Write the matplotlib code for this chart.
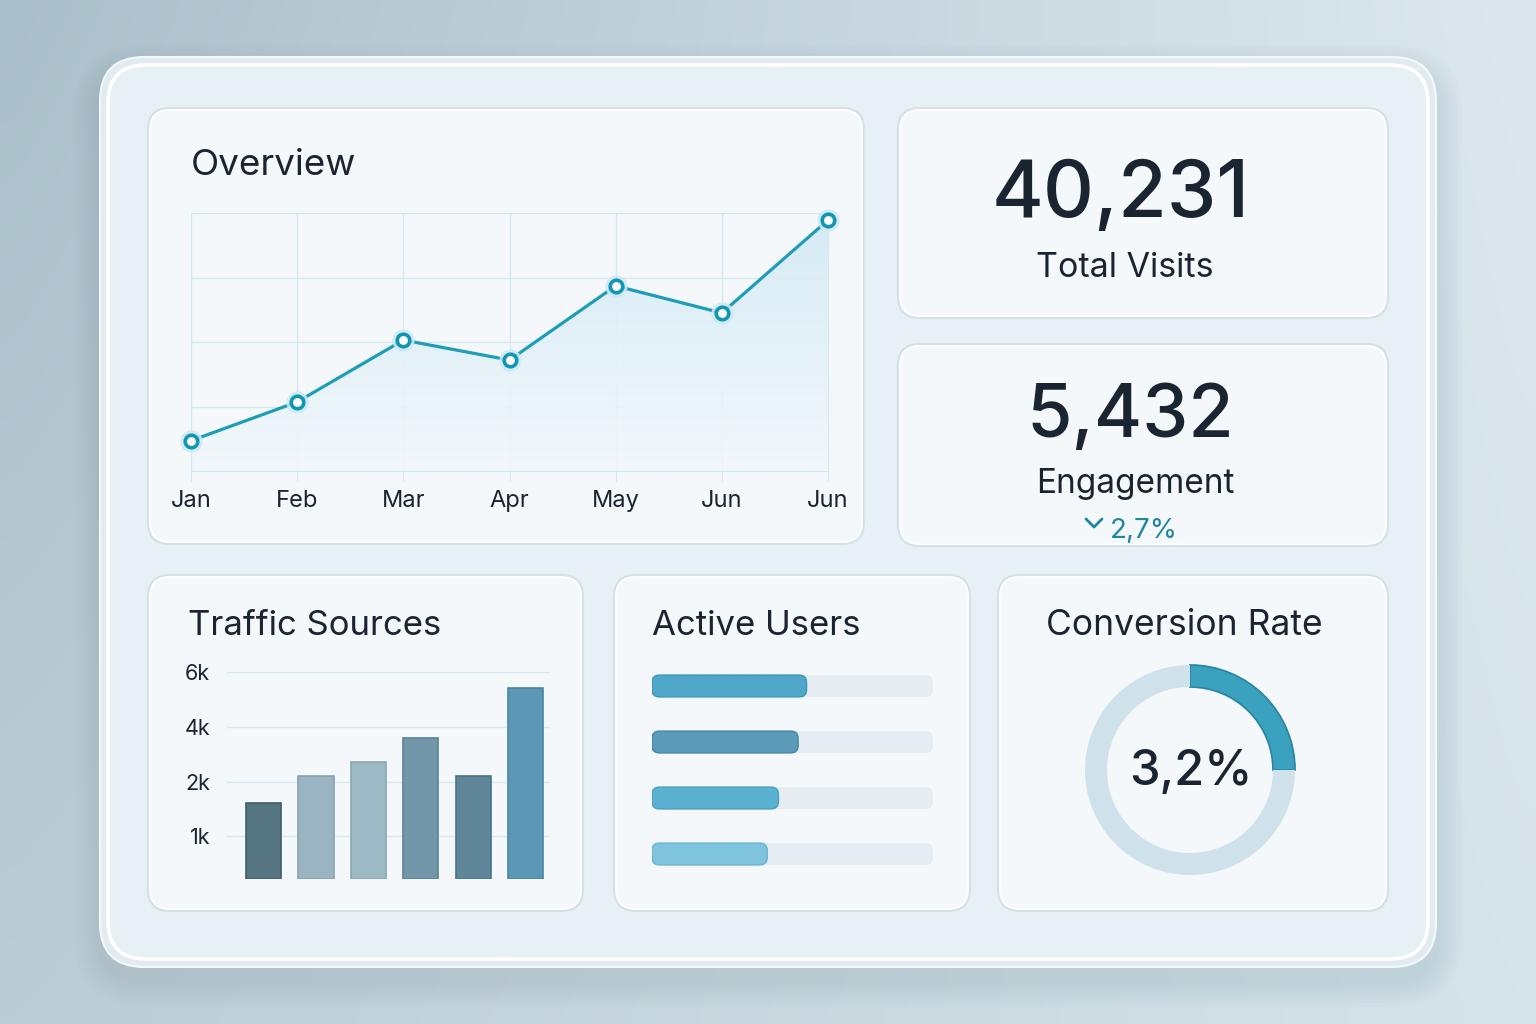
import numpy as np
import matplotlib
matplotlib.use("Agg")
import matplotlib.pyplot as plt
from matplotlib.patches import FancyBboxPatch
from matplotlib.colors import LinearSegmentedColormap, to_rgb

plt.rcParams['font.family'] = ['Inter', 'DejaVu Sans']

# data
months = ["Jan", "Feb", "Mar", "Apr", "May", "Jun", "Jun"]
visits = [47, 107, 203, 172, 287, 245, 389]

traffic = [1600, 2200, 2700, 3600, 2200, 5400]
traffic_colors = ["#557582", "#9ab5c1", "#9cb9c5", "#7197a8", "#5f8799", "#5c98b6"]
traffic_edges = ["#3f5f6c", "#86a3b0", "#88a7b4", "#5b8296", "#4a7487", "#4a86a4"]
traffic_ticks = [1000, 2000, 4000, 6000]
traffic_ticklabels = ["1k", "2k", "4k", "6k"]

active_users = [55, 52, 45, 41]
active_colors = ["#4fa8c9", "#5b9bb9", "#5bb1d0", "#7ec4dd"]
active_edges = ["#3a96b8", "#4786a6", "#48a0c0", "#6ab3ce"]

total_visits = "40,231"
engagement = "5,432"
engagement_change = "2,7%"
conversion = "3,2%"
gauge_share = [25, 75]

W, H = 1536, 1024
DARK = "#1b2431"
TEAL = "#1f86a0"

fig = plt.figure(figsize=(W / 100, H / 100), dpi=100)


def box(x0, y0, x1, y1):
    return [x0 / W, 1 - y1 / H, (x1 - x0) / W, (y1 - y0) / H]


# decoration layer in pixel coordinates
deco = fig.add_axes([0, 0, 1, 1], zorder=0)
deco.set_xlim(0, W)
deco.set_ylim(H, 0)
deco.axis("off")

# background gradient
tl, tr = np.array(to_rgb("#abbfca")), np.array(to_rgb("#dde8ee"))
bl, br = np.array(to_rgb("#bccdd6")), np.array(to_rgb("#d6e3e9"))
u = np.linspace(0, 1, 64)[None, :, None]
v = np.linspace(0, 1, 64)[:, None, None]
bg = (1 - v) * ((1 - u) * tl + u * tr) + v * ((1 - u) * bl + u * br)
deco.imshow(bg, extent=[0, W, H, 0], aspect="auto", interpolation="bicubic", zorder=0)


def rounded(x0, y0, x1, y1, r, **kw):
    p = FancyBboxPatch((x0 + r, y0 + r), (x1 - x0) - 2 * r, (y1 - y0) - 2 * r,
                       boxstyle=f"round,pad={r}", **kw)
    deco.add_patch(p)
    return p


def shadow(x0, y0, x1, y1, r, spread, dy, alpha):
    for k in range(1, 8):
        e = spread * k / 7
        rounded(x0 - e, y0 - e + dy, x1 + e, y1 + e + dy, r + e,
                fc="#6f8a99", ec="none", alpha=alpha, zorder=1)


# outer glass panel
shadow(100, 57, 1436, 967, 44, 26, 14, 0.025)
rounded(100, 57, 1436, 967, 44, fc="#e1ebf0", ec="#f3f8fb", lw=1.5, zorder=2)
rounded(108, 65, 1428, 959, 38, fc="#e7f0f4", ec="#ffffff", lw=2.5, zorder=2)

panels = [
    (148, 108, 864, 544),
    (898, 108, 1388, 318),
    (898, 344, 1388, 546),
    (148, 575, 583, 911),
    (614, 575, 970, 911),
    (998, 575, 1388, 911),
]
for x0, y0, x1, y1 in panels:
    shadow(x0, y0, x1, y1, 22, 10, 4, 0.03)
    rounded(x0, y0, x1, y1, 22, fc="#f4f8fa", ec="#d5e1e8", lw=1.6, zorder=3)
    rounded(x0 + 2, y0 + 2, x1 - 2, y1 - 2, 20, fc="none", ec="#ffffff", lw=1.2, zorder=3)

# titles and big numbers
deco.text(191, 175, "Overview", fontsize=26.5, color=DARK, va="baseline", zorder=5)
deco.text(188, 635, "Traffic Sources", fontsize=25, color=DARK, va="baseline", zorder=5)
deco.text(652, 635, "Active Users", fontsize=25, color=DARK, va="baseline", zorder=5)
deco.text(1046, 635, "Conversion Rate", fontsize=25.5, color=DARK, va="baseline", zorder=5)

deco.text(1121, 217, total_visits, fontsize=57, color=DARK, ha="center", va="baseline",
          fontweight="medium", zorder=5)
deco.text(1125, 277, "Total Visits", fontsize=24.5, color=DARK, ha="center", va="baseline", zorder=5)
deco.text(1130, 437, engagement, fontsize=53, color=DARK, ha="center", va="baseline",
          fontweight="medium", zorder=5)
deco.text(1135, 493, "Engagement", fontsize=24, color=DARK, ha="center", va="baseline", zorder=5)
deco.text(1110, 538, engagement_change, fontsize=20, color=TEAL, va="baseline", zorder=5)
deco.plot([1086, 1094, 1102], [519, 527, 519], color=TEAL, lw=2, solid_capstyle="round",
          solid_joinstyle="round", zorder=5)

# Overview line chart
ax1 = fig.add_axes(box(191, 213, 828, 471), zorder=2)
ax1.patch.set_alpha(0)
x = np.arange(len(visits))
fill = ax1.fill_between(x, visits, 0, color="none")
cmap = LinearSegmentedColormap.from_list("fill", ["#f2f8fb", "#d3eaf5"])
grad = ax1.imshow(np.linspace(0, 1, 100)[:, None], extent=[0, 6, 0, 400], origin="lower",
                  aspect="auto", cmap=cmap, zorder=1, alpha=0.9)
grad.set_clip_path(fill.get_paths()[0], transform=ax1.transData)
ax1.plot(x, visits, color="#1f9db6", lw=2.3, zorder=3, clip_on=False)
ax1.plot(x, visits, "o", ms=15, color="#cdeaf4", alpha=0.8, zorder=3, clip_on=False)
ax1.plot(x, visits, "o", ms=9, mfc="white", mec="#1396b4", mew=2.6, zorder=4, clip_on=False)
ax1.set_xlim(0, 6)
ax1.set_ylim(0, 400)
ax1.set_xticks(x)
ax1.set_xticklabels(months, fontsize=17, color=DARK)
ax1.get_xticklabels()[0].set_x(0.1)
ax1.set_yticks([0, 100, 200, 300, 400])
ax1.set_yticklabels([])
ax1.grid(True, color="#d6e9f3", lw=1)
ax1.tick_params(axis="x", length=7, color="#d6e9f3", pad=7)
ax1.tick_params(axis="y", length=0)
for s in ax1.spines.values():
    s.set_color("#d2e7f2")
ax1.set_axisbelow(True)

# Traffic Sources bar chart
ax2 = fig.add_axes(box(227, 672, 550, 879), zorder=2)
ax2.patch.set_alpha(0)
kvals = [0, 1000, 2000, 4000, 6000]
kpos = [0.22, 1, 2, 3, 4]
ax2.set_yscale("function", functions=(lambda v: np.interp(v, kvals, kpos),
                                       lambda p: np.interp(p, kpos, kvals)))
ax2.bar(np.arange(len(traffic)), traffic, width=0.67, color=traffic_colors,
        edgecolor=traffic_edges, lw=1.2, zorder=3)
ax2.set_xlim(-0.70, 5.47)
ax2.set_ylim(0, 6000)
ax2.set_yticks(traffic_ticks)
ax2.set_yticklabels(traffic_ticklabels, fontsize=15.5, color=DARK)
ax2.minorticks_off()
ax2.set_xticks([])
ax2.yaxis.grid(True, color="#d8e8f1", lw=1)
ax2.set_axisbelow(True)
ax2.tick_params(axis="y", length=0, pad=12)
for s in ax2.spines.values():
    s.set_visible(False)

# Active Users progress bars
ax3 = fig.add_axes(box(652, 658, 933, 882), zorder=2)
ax3.patch.set_alpha(0)
rows = np.arange(len(active_users))
tracks = ax3.barh(rows, [100] * len(rows), height=0.39, color="#e5edf2", zorder=2)
fills = ax3.barh(rows, active_users, height=0.39, color=active_colors,
                 edgecolor=active_edges, lw=1, zorder=3)
ax3.set_xlim(0, 100)
ax3.set_ylim(3.5, -0.5)
ax3.axis("off")
aspect = (1 / 56) / (100 / 281)
for bars in (tracks, fills):
    for b in bars:
        bx, by = b.get_xy()
        p = FancyBboxPatch((bx, by), b.get_width(), b.get_height(),
                           boxstyle="round,pad=0,rounding_size=2.6", mutation_aspect=aspect,
                           fc=b.get_facecolor(), ec=b.get_edgecolor(), lw=b.get_linewidth(),
                           zorder=b.get_zorder())
        b.remove()
        ax3.add_patch(p)

# Conversion Rate ring
ax4 = fig.add_axes(box(1075, 655, 1305, 885), zorder=2)
wedges, _ = ax4.pie(gauge_share, radius=1.05, startangle=90, counterclock=False,
                    colors=["#3aa2bf", "#cfe1ea"], wedgeprops=dict(width=0.22))
wedges[0].set_edgecolor("#2a87a3")
wedges[0].set_linewidth(1.3)
ax4.set_xlim(-1.15, 1.15)
ax4.set_ylim(-1.15, 1.15)
ax4.set_aspect("equal")
ax4.text(0.01, -0.15, conversion, fontsize=35, color=DARK, ha="center", va="baseline",
         fontweight="medium")

fig.savefig("out.png", dpi=100)
